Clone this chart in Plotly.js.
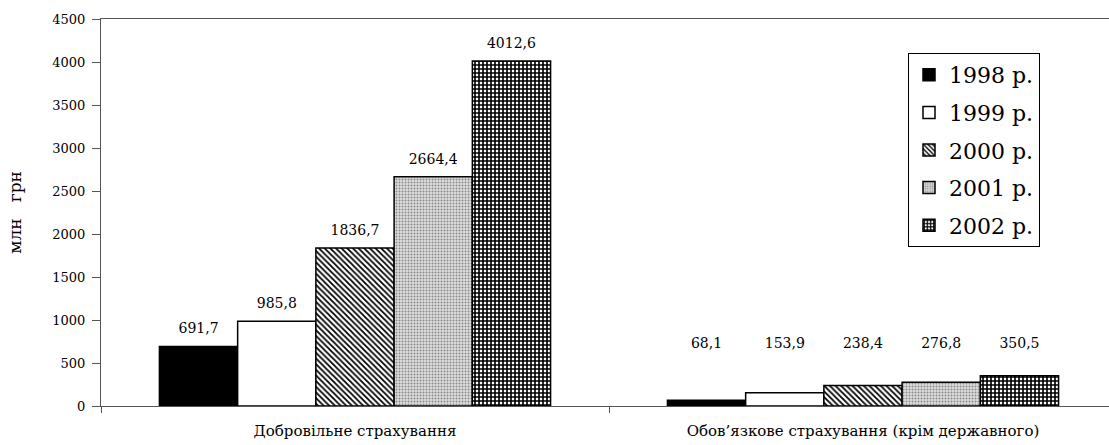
<!DOCTYPE html>
<html>
<head>
<meta charset="utf-8">
<script src="https://cdn.plot.ly/plotly-3.0.1.min.js"></script>
<style>html,body{margin:0;padding:0;background:#fff;}#chart{width:1109px;height:445px;}</style>
</head>
<body>
<div id="chart"></div>
<script>
const categories = ['Добровільне страхування', 'Обов’язкове страхування (крім державного)'];
const years = ['1998 р.', '1999 р.', '2000 р.', '2001 р.', '2002 р.'];
const values1998 = [691.7, 68.1];
const values1999 = [985.8, 153.9];
const values2000 = [1836.7, 238.4];
const values2001 = [2664.4, 276.8];
const values2002 = [4012.6, 350.5];
const seriesValues = [values1998, values1999, values2000, values2001, values2002];

// label placement (style): gap above first-group bars, fixed level for second group
const labelGap = 85;
const group2LabelLevel = 610;

const fmt = v => v.toFixed(1).replace('.', ',');

const markers = [
  {color: '#000000', line: {color: '#000', width: 1.5}},
  {color: '#ffffff', line: {color: '#000', width: 1.5}},
  {color: '#ffffff', line: {color: '#000', width: 1.5},
   pattern: {shape: '\\', fgcolor: '#000', bgcolor: '#fff', fillmode: 'replace', size: 4, solidity: 0.45}},
  {color: '#d0d0d0', line: {color: '#000', width: 1.5},
   pattern: {shape: '.', fgcolor: '#8a8a8a', bgcolor: '#dedede', fillmode: 'replace', size: 3, solidity: 0.35}},
  {color: '#ffffff', line: {color: '#000', width: 1.5},
   pattern: {shape: '+', fgcolor: '#000', bgcolor: '#fff', fillmode: 'replace', size: 4, solidity: 0.65}}
];

const serif = 'DejaVu Serif, serif';
const traces = [];
seriesValues.forEach((vals, i) => {
  traces.push({
    type: 'bar', x: categories, y: vals, name: years[i],
    offsetgroup: String(i), legendgroup: String(i),
    marker: markers[i],
    hoverinfo: 'x+y+name'
  });
});
seriesValues.forEach((vals, i) => {
  traces.push({
    type: 'bar', x: categories,
    y: vals.map((v, j) => j === 0 ? v + labelGap : group2LabelLevel),
    offsetgroup: String(i), showlegend: false, hoverinfo: 'skip',
    marker: {color: 'rgba(0,0,0,0)', line: {width: 0}},
    text: vals.map(fmt),
    textposition: 'outside', cliponaxis: false, constraintext: 'none',
    textfont: {family: serif, size: 14, color: '#000'}
  });
});

const plotW = 1109 - 101;
const catW = 508;

const layout = {
  width: 1109, height: 445,
  margin: {l: 101, r: 0, t: 19, b: 39, pad: 0},
  paper_bgcolor: '#fff', plot_bgcolor: '#fff',
  font: {family: serif, color: '#000', size: 13},
  barmode: 'group', bargap: 0.23, bargroupgap: 0,
  showlegend: true,
  legend: {
    x: (908 - 101) / plotW, xanchor: 'left',
    y: (406 - 53) / 387, yanchor: 'top',
    bgcolor: '#fff', bordercolor: '#000', borderwidth: 1,
    font: {family: serif, size: 22, color: '#000'},
    tracegroupgap: 6, itemwidth: 30,
    traceorder: 'grouped'
  },
  xaxis: {
    type: 'category', range: [-0.5, plotW / catW - 0.5],
    showline: true, linecolor: '#555', linewidth: 1, mirror: true,
    ticks: 'outside', tickson: 'boundaries', ticklen: 6, tickcolor: '#555',
    ticklabelstandoff: 11,
    tickfont: {family: serif, size: 15, color: '#000'},
    showgrid: false, zeroline: false, fixedrange: true
  },
  yaxis: {
    range: [0, 4500], dtick: 500, tick0: 0,
    showline: true, linecolor: '#555', linewidth: 1,
    ticks: 'outside', ticklen: 8, tickcolor: '#555',
    ticklabelstandoff: 4,
    tickfont: {family: serif, size: 13, color: '#000'},
    showgrid: false, zeroline: false, fixedrange: true,
    title: {text: 'млн   грн', font: {family: serif, size: 17, color: '#000'}, standoff: 26}
  }
};

Plotly.newPlot('chart', traces, layout, {displayModeBar: false, staticPlot: true});
</script>
</body>
</html>
